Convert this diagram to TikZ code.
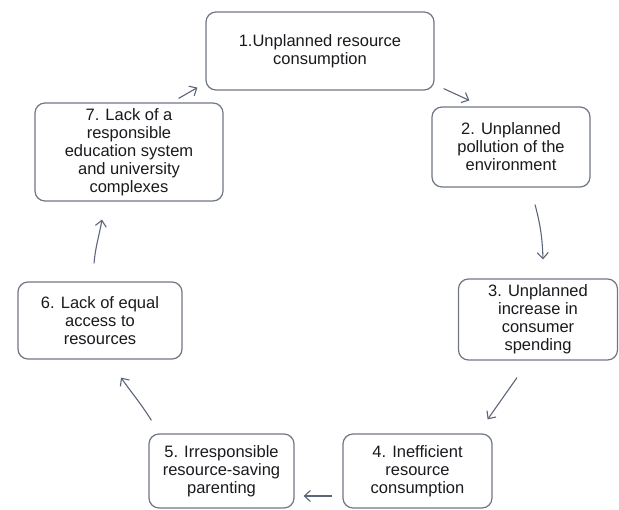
\documentclass[tikz,border=0pt]{standalone}
\usepackage{xcolor}
\usepackage{fontspec}
\setmainfont{Liberation Sans}
\usepackage{tikz}
\usetikzlibrary{arrows.meta}
\definecolor{boxgray}{RGB}{112,118,130}
\definecolor{arrowgray}{RGB}{92,102,120}
\definecolor{textdark}{RGB}{25,25,30}
\tikzstyle{stage} = [rectangle, rounded corners=10pt, line width=1.2pt, draw=boxgray, text=textdark, align=center, font=\fontsize{16.5}{18}\selectfont, inner sep=0pt]
\tikzstyle{arrow} = [line width=1.1pt, draw=arrowgray, ->, >={Straight Barb[length=6pt,width=11pt]}]

\begin{document}
\begin{tikzpicture}[x=1pt,y=1pt]
   \useasboundingbox (0,0) rectangle (619,-510);
   \node (b1) [stage, minimum width=228pt, minimum height=78pt] at (320,-51) {1.Unplanned resource\\consumption};
   \node (b2) [stage, minimum width=158pt, minimum height=80pt] at (511,-147) {2. Unplanned\\pollution of the\\environment};
   \node (b3) [stage, minimum width=159pt, minimum height=81pt] at (538,-319.5) {3. Unplanned\\increase in\\consumer\\spending};
   \node (b4) [stage, minimum width=149pt, minimum height=74pt] at (417.5,-471) {4. Inefficient\\resource\\consumption};
   \node (b5) [stage, minimum width=145pt, minimum height=74pt] at (221.5,-471) {5. Irresponsible\\resource-saving\\parenting};
   \node (b6) [stage, minimum width=164pt, minimum height=77pt] at (100,-320.5) {6. Lack of equal\\access to\\resources};
   \node (b7) [stage, minimum width=188pt, minimum height=98pt] at (129,-152) {7. Lack of a\\responsible\\education system\\and university\\complexes};
   % arrows round the cycle
   \draw [arrow] ([shift={(9,2)}]b1.south east) -- ([shift={(38,6)}]b2.north west);
   \draw [arrow] ([shift={(24,-17)}]b2.south) to[out=-75,in=92] ([shift={(5,19)}]b3.north);
   \draw [arrow] ([shift={(-21,-17)}]b3.south) -- ([shift={(-5,14)}]b4.north east);
   \draw [arrow] ([shift={(-10,-25)}]b4.west) -- ([shift={(9,-25)}]b5.east);
   \draw [arrow] ([shift={(3,13)}]b5.north west) to[out=122,in=-55] ([shift={(21,-18)}]b6.south);
   \draw [arrow] ([shift={(-6,18)}]b6.north) to[out=85,in=-100] ([shift={(-27,-18)}]b7.south);
   \draw [arrow] ([shift={(-45,4)}]b7.north east) -- ([shift={(-8,3)}]b1.south west);
\end{tikzpicture}
\end{document}
